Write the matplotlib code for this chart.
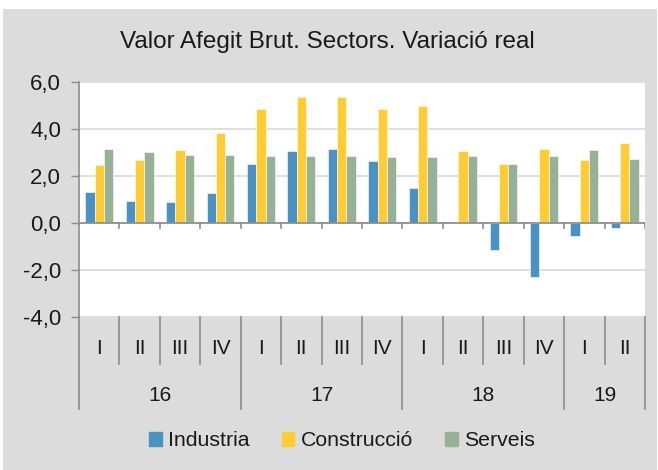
import numpy as np
import matplotlib
matplotlib.use("Agg")
from matplotlib import pyplot as plt
from matplotlib.patches import Patch, Rectangle

plt.rcParams['font.family'] = ['Liberation Sans', 'DejaVu Sans']

# data
years = ["16", "17", "18", "19"]
quarters = ["I", "II", "III", "IV", "I", "II", "III", "IV", "I", "II", "III", "IV", "I", "II"]
industria = [1.32, 0.94, 0.88, 1.26, 2.52, 3.06, 3.16, 2.62, 1.51, 0.06, -1.15, -2.30, -0.55, -0.23]
construccio = [2.47, 2.67, 3.11, 3.84, 4.84, 5.38, 5.38, 4.84, 4.99, 3.06, 2.52, 3.16, 2.67, 3.40]
serveis = [3.16, 3.00, 2.90, 2.90, 2.86, 2.86, 2.86, 2.82, 2.82, 2.86, 2.52, 2.86, 3.11, 2.73]
year_span = [4, 4, 4, 2]

BG = "#dcdcdc"
C_BLUE = "#4a92c4"
C_YEL = "#ffcc33"
C_GRN = "#96b196"
TXT = "#1a1a1a"

fig = plt.figure(figsize=(6.58, 4.70), dpi=100, facecolor="white")
# grey chart area with thin white margin on top/left
fig.patches.append(Rectangle((3/658, 0), 654/658, 461/470, transform=fig.transFigure,
                             facecolor=BG, edgecolor="none", zorder=-10))

ax = fig.add_axes([79/658, (470-317)/470, (645-79)/658, (317-82)/470])
ax.set_facecolor("white")

n = len(quarters)
x = np.arange(n)
w = 0.23
ax.bar(x - w, industria, w, color=C_BLUE, edgecolor="white", linewidth=0.4, zorder=3)
ax.bar(x, construccio, w, color=C_YEL, edgecolor="white", linewidth=0.4, zorder=3)
ax.bar(x + w, serveis, w, color=C_GRN, edgecolor="white", linewidth=0.4, zorder=3)

ax.set_xlim(-0.5, n - 0.5)
ax.set_ylim(-4, 6)
ax.set_yticks(np.arange(-4, 7, 2))
ax.set_yticklabels([f"{v:.1f}".replace(".", ",") for v in np.arange(-4, 7, 2)], fontsize=16, color=TXT)
ax.grid(axis="y", color="#d9d9d9", linewidth=1.2, zorder=0)
ax.tick_params(axis="y", length=6, color="#8c8c8c", width=1, pad=7)
ax.set_xticks([])
for s in ["top", "right", "bottom"]:
    ax.spines[s].set_visible(False)
ax.spines["left"].set_color("#8c8c8c")
ax.spines["left"].set_linewidth(1.2)

# zero line with small ticks between categories
ax.axhline(0, color="#8c8c8c", linewidth=1.2, zorder=4)
for b in np.arange(0.5, n, 1.0):
    ax.plot([b, b], [0, -0.2], color="#8c8c8c", linewidth=1.2, zorder=4)

# category axis below the plot area
tr = ax.get_xaxis_transform()
ax.plot([-0.5, -0.5], [0, -0.39], transform=tr, color="#8c8c8c", lw=1.2, clip_on=False)
for i, q in enumerate(quarters):
    ax.text(i, -0.133, q, transform=tr, ha="center", va="center", fontsize=15, color=TXT)
start = 0
for yr, span in zip(years, year_span):
    end = start + span
    ax.text(start + span / 2 - 0.5, -0.332, yr, transform=tr, ha="center", va="center",
            fontsize=15, color=TXT)
    ax.plot([end - 0.5, end - 0.5], [0, -0.39], transform=tr, color="#8c8c8c", lw=1.2, clip_on=False)
    for b in range(start + 1, end):
        ax.plot([b - 0.5, b - 0.5], [0, -0.2], transform=tr, color="#8c8c8c", lw=1.2, clip_on=False)
    start = end

fig.text(327/658, 1 - 42/470, "Valor Afegit Brut. Sectors. Variació real", ha="center", va="center",
         fontsize=17.5, color=TXT)

handles = [Patch(color=C_BLUE), Patch(color=C_YEL), Patch(color=C_GRN)]
fig.legend(handles, ["Industria", "Construcció", "Serveis"], loc="center",
           bbox_to_anchor=(342/658, 1 - 441/470), ncol=3, frameon=False, fontsize=15.3,
           handlelength=0.6, handleheight=0.6, handletextpad=0.3, columnspacing=1.5,
           labelcolor=TXT)

fig.savefig("out.png", dpi=100, facecolor="white")
